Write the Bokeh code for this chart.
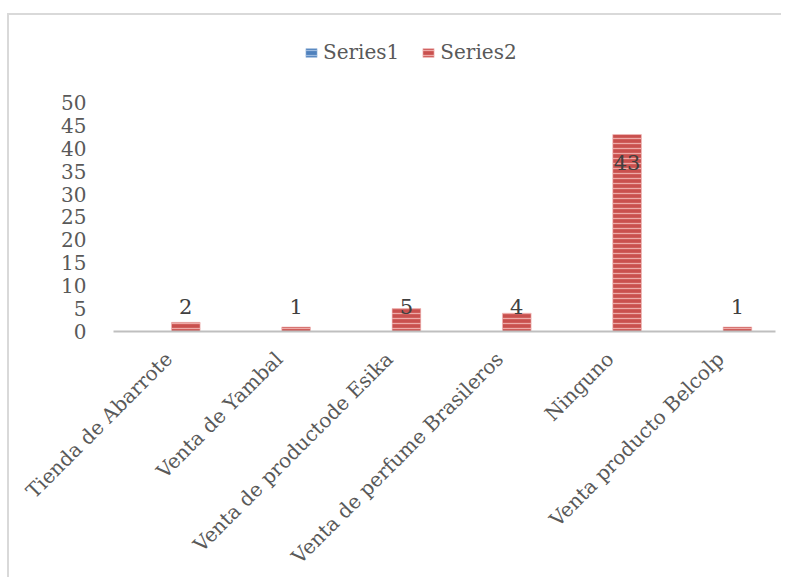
import numpy as np
from bokeh.plotting import figure
from bokeh.models import ColumnDataSource, FactorRange, Range1d, FixedTicker, Legend, LegendItem
from bokeh.transform import dodge
from bokeh.core.properties import value
from bokeh.embed import file_html
from bokeh.resources import INLINE

categories = ["Tienda de Abarrote", "Venta de Yambal", "Venta de productode Esika",
              "Venta de perfume Brasileros", "Ninguno", "Venta producto Belcolp"]
series1 = [0, 0, 0, 0, 0, 0]
series2 = [2, 1, 5, 4, 43, 1]
y_ticks = [0, 5, 10, 15, 20, 25, 30, 35, 40, 45, 50]

s2 = np.array(series2, dtype=float)
label_y = np.where(s2 > 20, s2 - 6.0, 5.5)

src = ColumnDataSource(dict(cat=categories, s1=series1, s2=series2,
                            label=[str(v) for v in series2], label_y=label_y))

FONT = "DejaVu Serif"

p = figure(x_range=FactorRange(*categories), y_range=Range1d(0, 67.9),
           width=774, height=564, output_backend="svg", toolbar_location=None,
           min_border_left=104, min_border_right=8, min_border_top=5, min_border_bottom=244)
p.styles = {"border-top": "2px solid #d9d9d9", "border-left": "2px solid #d9d9d9",
            "margin-top": "13px", "margin-left": "7px"}
p.outline_line_color = None
p.xgrid.grid_line_color = None
p.ygrid.grid_line_color = None

r1 = p.vbar(x=dodge("cat", -0.155, range=p.x_range), top="s1", width=0.26, source=src,
            fill_color="#4f81bd", line_color="#a7c0de", line_width=0.5,
            hatch_pattern="horizontal_line", hatch_color="#9dbbe0", hatch_scale=5, hatch_weight=1.2)
r2 = p.vbar(x=dodge("cat", 0.155, range=p.x_range), top="s2", width=0.26, source=src,
            fill_color="#c9504e", line_color="#f2c0c0", line_width=0.6,
            hatch_pattern="horizontal_line", hatch_color="#eeaaa8", hatch_scale=5, hatch_weight=1.3)

p.text(x=dodge("cat", 0.155, range=p.x_range), y="label_y", text="label", source=src,
       text_align="center", text_baseline="middle", text_font=value(FONT),
       text_font_size="21px", text_color="#404040")

# axes
p.yaxis.ticker = FixedTicker(ticks=y_ticks)
p.yaxis.axis_line_color = None
p.yaxis.major_tick_line_color = None
p.yaxis.minor_tick_line_color = None
p.yaxis.major_label_standoff = 21
p.yaxis.major_label_text_font = FONT
p.yaxis.major_label_text_font_size = "20px"
p.yaxis.major_label_text_color = "#595959"

p.xaxis.axis_line_color = "#bfbfbf"
p.xaxis.axis_line_width = 2
p.xaxis.major_tick_line_color = None
p.xaxis.minor_tick_line_color = None
p.xaxis.major_label_orientation = np.pi / 4
p.xaxis.major_label_standoff = 18
p.xaxis.major_label_text_font = FONT
p.xaxis.major_label_text_font_size = "20px"
p.xaxis.major_label_text_color = "#595959"

legend = Legend(items=[LegendItem(label="Series1", renderers=[r1]),
                       LegendItem(label="Series2", renderers=[r2])],
                orientation="horizontal", location=(191, 267),
                glyph_width=14, glyph_height=11, label_standoff=5, spacing=22,
                padding=5, margin=0,
                label_text_font=FONT, label_text_font_size="20px", label_text_color="#595959",
                border_line_color=None, background_fill_alpha=0)
p.add_layout(legend, "center")

open("out.html", "w").write(file_html(p, INLINE))
